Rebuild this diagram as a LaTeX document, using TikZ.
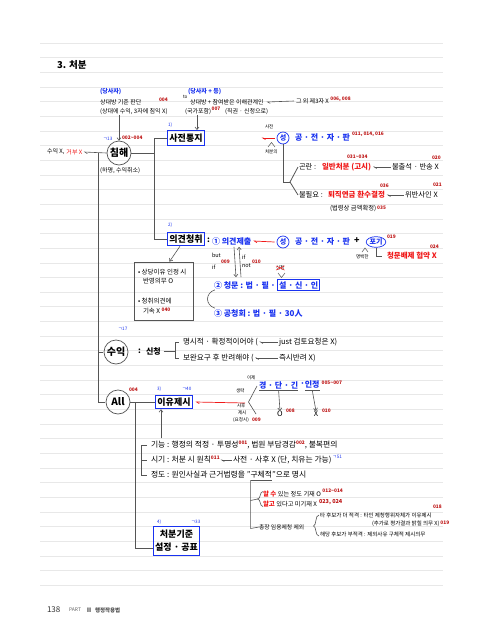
\documentclass[tikz,border=0pt]{standalone}
\usepackage{fontspec}
\setmainfont{Noto Sans CJK KR}
\usetikzlibrary{arrows.meta,calc,shapes.geometric}
\definecolor{mblue}{RGB}{25,50,240}
\definecolor{mred}{RGB}{240,25,25}
\definecolor{nred}{RGB}{190,20,20}
\definecolor{lnc}{RGB}{85,85,85}
\definecolor{rulec}{RGB}{232,232,232}
\newcommand\myfs[1]{\fontsize{#1}{#1}\selectfont}
\begin{document}
\begin{tikzpicture}[x=1pt,y=-1pt,
 tx/.style={anchor=west,inner sep=0pt,outer sep=0pt,font=\myfs{6}},
 txs/.style={tx,font=\myfs{4.6}},
 numr/.style={tx,font=\myfs{4.8}\bfseries,text=nred},
 numb/.style={tx,font=\myfs{4.6},text=mblue},
 bbl/.style={tx,font=\myfs{8}\bfseries,text=mblue},
 rbl/.style={tx,font=\myfs{7.5}\bfseries,text=mred},
 boxn/.style={draw=mblue,line width=0.9pt,inner sep=1.5pt,minimum height=13.5pt,font=\myfs{9}\bfseries},
 circn/.style={circle,draw=lnc,line width=0.7pt,minimum size=24pt,inner sep=0pt,font=\myfs{10}\bfseries},
 cs/.style={circle,draw=mblue,line width=0.7pt,minimum size=12pt,inner sep=0pt,font=\myfs{7}\bfseries,text=mblue},
 lnk/.style={draw=lnc,line width=0.8pt},
 thin/.style={draw=lnc,line width=0.6pt},
 harr/.style={draw=lnc,line width=0.6pt,-{Straight Barb[left,length=2.5pt,width=3pt]}},
 darr/.style={draw=lnc,line width=0.6pt,-{Straight Barb[length=2.5pt,width=4pt]}},
 rarr/.style={draw=mred,line width=0.7pt,-{Straight Barb[left,length=2.5pt,width=3pt]}},
 rul/.style={draw=rulec,line width=0.5pt}]
\useasboundingbox (0,0) rectangle (500,643);
\fill[white] (0,0) rectangle (500,643);
\foreach \k in {0,...,37} \draw[rul] (40,{43+14.65*\k}) -- (443,{43+14.65*\k});
% helper coordinates
\coordinate (sp1) at (98,0);
\coordinate (sp2) at (154,0);
\coordinate (sp3) at (135,0);
\coordinate (c182) at (0,182);
\coordinate (c256) at (0,256);
\coordinate (c548) at (0,548);
% title
\node[tx,font=\myfs{9.5}\bfseries] (title) at (57,65) {3. 처분};
% top left
\node[tx,text=mblue,font=\myfs{6}\bfseries] (ds1) at (100,92) {(당사자)};
\node[tx] (sd1) at (100,102) {상대방 기준 판단};
\node[numr] (n004a) at (159,100) {004};
\node[tx] (sd2) at (100,112) {(상대에 수익, 3자에 침익 X)};
% top middle
\node[txs] (to) at (183,97) {to};
\node[tx,text=mblue,font=\myfs{6}\bfseries] (ds2) at (188,92) {(당사자 + 등)};
\node[tx] (sd3) at (190,102) {상대방 + 참여받은 이해관계인};
\node[tx] (others) at (296,101) {그 외 제3자 X};
\draw[harr] ([xshift=-2pt]others.west) -- ([xshift=3pt]sd3.east);
\node[numr] at ([xshift=1.5pt,yshift=1.5pt]others.east) {006, 008};
\node[tx] (gukga) at (185,112) {(국가포함)};
\node[numr] (n007) at ([xshift=0.5pt,yshift=3pt]gukga.east) {007};
\node[tx] (jik) at (225,112) {(직권 · 신청으로)};
% 1) 사전통지
\node[numb] at (168,125) {1)};
\node[boxn,minimum height=15pt] (sajeon) at (186,138) {사전통지};
\draw[darr] ([xshift=11pt]sajeon.north |- gukga.south) -- ([xshift=11pt]sajeon.north);
% 침해
\node[circn] (chim) at (119,153) {침해};
\draw[darr] (chim.north |- sd2.south) -- (chim.north);
\node[numb] at (103,139) {ㄱ13};
\node[numr] at (122,138) {002\textasciitilde004};
\node[tx] (suikx) at (47,152) {수익 X,};
\node[tx,text=mred] (geobu) at ([xshift=2pt]suikx.east) {거부 X};
\draw[harr] (chim.west) -- ([xshift=1.5pt]geobu.east);
\node[tx] at (100,171) {(하명, 수익취소)};
% spines
\draw[lnk] (chim.east) -- (chim.east -| sp2);
\draw[lnk] (sajeon.west) -- (sajeon.west -| sp2) -- (sp2 |- 0,239) -- (154,239) -- (166.5,239);
\draw[lnk] (chim.west -| sp1) -- (sp1 |- 0,402) -- (105,402);
\draw[lnk] (sp1 |- 0,352) -- (103,352);
% 사전통지 right
\node[txs] at (265,127) {사전};
\node[cs] (seong1) at (283,138) {성};
\draw[rarr] ([xshift=-2pt]seong1.west) -- ([xshift=-15pt]seong1.west);
\node[bbl] (gjjp1) at (295,138) {공 · 전 · 자 · 판};
\node[numr] at (352,134) {011, 014, 016};
\draw[thin,line width=0.5pt] (268,147) -- (271.5,142.5) -- (275,147);
\node[txs] at (265,152) {처분의};
\draw[lnk] (seong1.south) -- (seong1.south |- c182) -- (290,182);
% 곤란
\node[tx,font=\myfs{7.3}] (gonran) at (299,167) {곤란 :};
\node[rbl] (ilban) at (322,167) {일반처분 (고시)};
\node[tx,font=\myfs{7.3}] (bulchul) at (392,167) {불출석 · 반송 X};
\draw[harr] ([xshift=-1.5pt]bulchul.west) -- ([xshift=2pt]ilban.east);
\node[numr] at (347,157) {031\textasciitilde034};
\node[numr] at (432,158) {020};
% 불필요
\node[tx,font=\myfs{7.3}] (bulpil) at (299,195) {불필요 :};
\node[rbl] (toejik) at (328,195) {퇴직연금 환수결정};
\node[tx,font=\myfs{7.3}] (wiban) at (405,195) {위반사인 X};
\draw[harr] ([xshift=-1.5pt]wiban.west) -- ([xshift=2pt]toejik.east);
\node[numr] at (380,186) {036};
\node[numr] at (433,185) {021};
\node[tx,font=\myfs{6.3}] (beop) at (330,208) {(법령상 금액확정)};
\node[numr] at ([xshift=1pt]beop.east) {035};
\draw[lnk] (290,182) -- ([xshift=-1pt]gonran.west);
\draw[lnk] (290,182) -- ([xshift=-1pt]bulpil.west);
% 2) 의견청취
\node[numb] at (168,225) {2)};
\node[boxn] (uigyeon) at (186,239) {의견청취};
\node[tx,font=\myfs{8}\bfseries] (colon2) at (207,240) {:};
\node[bbl] (op1) at (212,241) {① 의견제출};
\node[cs] (seong2) at (283,242) {성};
\draw[rarr] ([xshift=-2pt]seong2.west) -- ([xshift=2pt]op1.east);
\node[bbl] (gjjp2) at (295,242) {공 · 전 · 자 · 판};
\node[tx,font=\myfs{9}\bfseries] (plus) at (354,241) {+};
\node[ellipse,draw=mblue,line width=0.7pt,inner sep=0.5pt,font=\myfs{7}\bfseries,text=mblue] (pogi) at (376,242) {포기};
\node[numr] at (387,237) {019};
\draw[thin,line width=0.5pt] (362,252) -- (365,248) -- (368,252);
\node[txs] at (356,257) {명백한};
\draw[thin] (pogi.south) -- (pogi.south |- c256) -- ++(6,0);
\node[rbl] (cheongbae) at (387,256) {청문배제 협약 X};
\node[numr] at (430,247) {024};
% but if / if not
\node[tx,font=\myfs{5.5}] at (212,255) {but};
\node[tx,font=\myfs{5.5}] at (212,267) {if};
\node[numr] at (221,262) {009};
\node[tx,font=\myfs{5.5}] at (242,257) {if};
\node[tx,font=\myfs{5.5}] at (242,266) {not};
\node[numr] at (252,262) {010};
\node[txs] (sincheong) at (276,268) {신청};
\draw[mred,line width=0.5pt] (sincheong.south west) -- (sincheong.north east) (sincheong.north west) -- (sincheong.south east);
\draw[thin,line width=0.5pt] (278,273) -- (281.5,277.5) -- (285,273);
% 청문 / 공청회
\node[bbl] (op2) at (214,285) {② 청문 : 법 · 필 ·};
\node[bbl,draw=mblue,line width=0.8pt,inner sep=1.5pt] (ssi) at ([xshift=2pt]op2.east) {설 · 신 · 인};
\node[bbl] (op3) at (214,313) {③ 공청회 : 법 · 필 · 30人};
\draw[darr] ([xshift=22pt,yshift=-2pt]op1.south west) -- ([xshift=22pt,yshift=4pt]op2.north west);
\draw[darr] ([xshift=27pt,yshift=4pt]op2.north west) -- ([xshift=27pt,yshift=-2pt]op1.south west);
\draw[thin] ([xshift=1pt,yshift=-1pt]op2.south west) .. controls (205,293) and (205,305) .. ([xshift=1pt,yshift=1pt]op3.north west);
% left box
\node[draw=lnc,line width=0.8pt,minimum width=59pt,minimum height=58pt,inner sep=0pt] (lbox) at (163.5,291) {};
\draw[darr] ([xshift=-6pt]uigyeon.south) -- ([xshift=6pt]lbox.north);
\node[tx,font=\myfs{6.5}] at (138,272) {• 상당이유 인정 시};
\node[tx,font=\myfs{6.5}] at (143,281) {반영의무 O};
\node[tx,font=\myfs{6.5}] at (138,301) {• 청취의견에};
\node[tx,font=\myfs{6.5}] (gisok) at (143,311) {기속 X};
\node[numr] at ([xshift=1.5pt,yshift=1.5pt]gisok.east) {040};
% 수익
\node[numb] at (118,329) {ㄱ17};
\node[circn] (suik) at (116,352) {수익};
\node[tx,font=\myfs{8}\bfseries] (scol) at (138,351) {:};
\node[tx,font=\myfs{8}\bfseries] (sinc2) at (146,351) {신청};
\draw[thin] ([xshift=3pt]sinc2.east) -- (175,351);
\draw[thin] (179,342) -- (175,342) -- (175,358) -- (179,358);
\node[tx,font=\myfs{7.6}] (ms1) at (183,342) {명시적 · 확정적이어야 (};
\node[tx,font=\myfs{7.6}] (ms2) at (279,342) {just 검토요청은 X)};
\draw[harr] ([xshift=-1.5pt]ms2.west) -- ([xshift=1.5pt]ms1.east);
\node[tx,font=\myfs{7.6}] (bw1) at (183,358) {보완요구 후 반려해야 (};
\node[tx,font=\myfs{7.6}] (bw2) at (279,358) {즉시반려 X)};
\draw[harr] ([xshift=-1.5pt]bw2.west) -- ([xshift=1.5pt]bw1.east);
% All / 이유제시
\node[circn] (all) at (118,402) {All};
\node[numr] at (129,390) {004};
\node[numb] at (157,389) {3)};
\node[numb] at (182,389) {ㄱ40};
\node[boxn] (iyu) at (174,402) {이유제시};
\draw[lnk] (all.east) -- (iyu.west);
\draw[lnk] (all.east -| sp3) -- (sp3 |- c548) -- (153.5,548);
\draw[rarr] (245,403) -- ([xshift=3pt]iyu.east);
\draw[thin] (257,386) -- (248.5,402) -- (256,414);
\node[txs] at (247,378) {이제};
\node[txs] at (236,391) {생략};
\node[txs] at (237,406) {사후};
\node[txs] at (238,413) {제시};
\node[txs] at (233,420) {(요청시)};
\node[numr] at (252,420) {009};
\node[bbl] (gdg) at (259,385) {경 · 단 · 긴};
\node[bbl] (gdot) at (gdg.east) {\ ·\ };
\node[bbl] (injeong) at (gdot.east) {인정};
\draw[thin] ([yshift=-1.5pt]gdg.south west) -- ([yshift=-1.5pt]gdg.south east);
\draw[thin] ([yshift=-1.5pt]injeong.south west) -- ([yshift=-1.5pt]injeong.south east);
\node[numr] at ([xshift=2pt,yshift=2pt]injeong.east) {005\textasciitilde007};
\node[font=\myfs{7.5},inner sep=0pt] (oo) at (280,414) {O};
\node[font=\myfs{7.5},inner sep=0pt] (xx) at (316,414) {X};
\draw[darr] ([yshift=-1.5pt]gdg.south) -- (oo.north);
\draw[darr] ([yshift=-1.5pt]injeong.south) -- (xx.north);
\node[numr] at (286,411) {008};
\node[numr] at (322,411) {010};
% rows
\node[tx,font=\myfs{7.8}] (gin) at (151,445) {기능 : 행정의 적정 · 투명성};
\node[numr] (g1) at ([yshift=2.5pt]gin.east) {001};
\node[tx,font=\myfs{7.8}] (g2) at ([yshift=-2.5pt]g1.east) {, 법원 부담경감};
\node[numr] (g3) at ([yshift=2.5pt]g2.east) {002};
\node[tx,font=\myfs{7.8}] (g4) at ([yshift=-2.5pt]g3.east) {, 불복편의};
\draw[darr] ([xshift=-13pt,yshift=3pt]iyu.south |- gin.north) -- ([xshift=-13pt]iyu.south);
\node[tx,font=\myfs{7.8}] (sigi) at (151,460) {시기 : 처분 시 원칙};
\node[numr] (s1) at ([yshift=2.5pt]sigi.east) {011};
\node[tx,font=\myfs{7.8}] (s2) at (233,460) {사전 · 사후 X (단, 치유는 가능)};
\draw[harr] ([xshift=-1.5pt]s2.west) -- ([xshift=1pt,yshift=-2.5pt]s1.east);
\node[numb] at ([xshift=1pt,yshift=3pt]s2.east) {ㄱ51};
\node[tx,font=\myfs{7.8}] (jd1) at (151,475) {정도 : 원인사실과 근거법령을 "};
\node[tx,font=\myfs{7.8}] (gu) at (jd1.east) {구체적};
\node[tx,font=\myfs{7.8}] (jd2) at (gu.east) {"으로 명시};
\draw[thin] ([xshift=-4pt]gin.west) -| ([xshift=-10pt]jd1.west) -- ([xshift=-4pt]jd1.west);
\draw[thin] ([xshift=-10pt]sigi.west) -- ([xshift=-4pt]sigi.west);
\draw[thin] ([yshift=-1.5pt]gu.south west) -- ([yshift=-1.5pt]gu.south east);
% 구체적 sub-items
\node[tx,font=\myfs{6.5}\bfseries,text=mred] (al1a) at (263,494) {알 수};
\node[tx,font=\myfs{6.2}] (al1b) at ([xshift=1.5pt]al1a.east) {있는 정도 기재 O};
\node[numr] at ([xshift=1.5pt,yshift=3pt]al1b.east) {012\textasciitilde014};
\node[tx,font=\myfs{6.5}\bfseries,text=mred] (al2a) at (263,504) {알고};
\node[tx,font=\myfs{6.2}] (al2b) at ([xshift=1.5pt]al2a.east) {있다고 미기재 X};
\node[numr,font=\myfs{5.5}\bfseries] at ([xshift=2pt,yshift=2pt]al2b.east) {023, 024};
\node[tx,font=\myfs{5.8}] (chongjang) at (259,527) {총장 임용제청 제외};
\draw[thin] ([yshift=-1.5pt]gu.south west) -- ([yshift=-1.5pt]gu.south west |- chongjang.west) -- (chongjang.west);
\draw[thin] ([yshift=-1.5pt]gu.south west |- 0,499) -- (257.5,499);
\draw[thin] (263,491.5) .. controls (259.5,491.5) and (261,499) .. (257.5,499) .. controls (261,499) and (259.5,506.5) .. (263,506.5);
\draw[thin] (319,515) .. controls (315,515) and (316.5,526) .. (313.5,526) .. controls (316.5,526) and (315,536) .. (319,536);
\node[tx,font=\myfs{5.5}] (ta) at (320,515) {타 후보가 더 적격 : 타인 제청행위자체가 이유제시};
\node[numr] at (433,507) {018};
\node[tx,font=\myfs{5.5}] (chuga) at (372,523.5) {(추가로 평가결과 밝힐 의무 X)};
\node[numr] at ([xshift=1pt,yshift=1pt]chuga.east) {019};
\node[tx,font=\myfs{5.5}] (haedang) at (320,534.5) {해당 후보가 부적격 : 제외사유 구체적 제시의무};
% 4) 처분기준
\node[numb] at (157,522) {4)};
\node[numb] at (191,522) {ㄱ33};
\node[boxn,minimum width=45pt,minimum height=29pt,align=center,font=\fontsize{9}{13.5}\selectfont\bfseries] (kijun) at (176.5,540.5) {처분기준\\설정 · 공표};
% footer
\node[tx,font=\myfs{8},text=black!80] (pg) at (47,610) {138};
\node[tx,font=\myfs{5},text=black!60] (part) at (69,610) {PART};
\node[tx,font=\myfs{6}\bfseries,text=black!75] (roman) at (86,610) {Ⅱ};
\node[tx,font=\myfs{5.5}\bfseries,text=black!70] (ptt) at (95,610) {행정작용법};
\end{tikzpicture}
\end{document}
